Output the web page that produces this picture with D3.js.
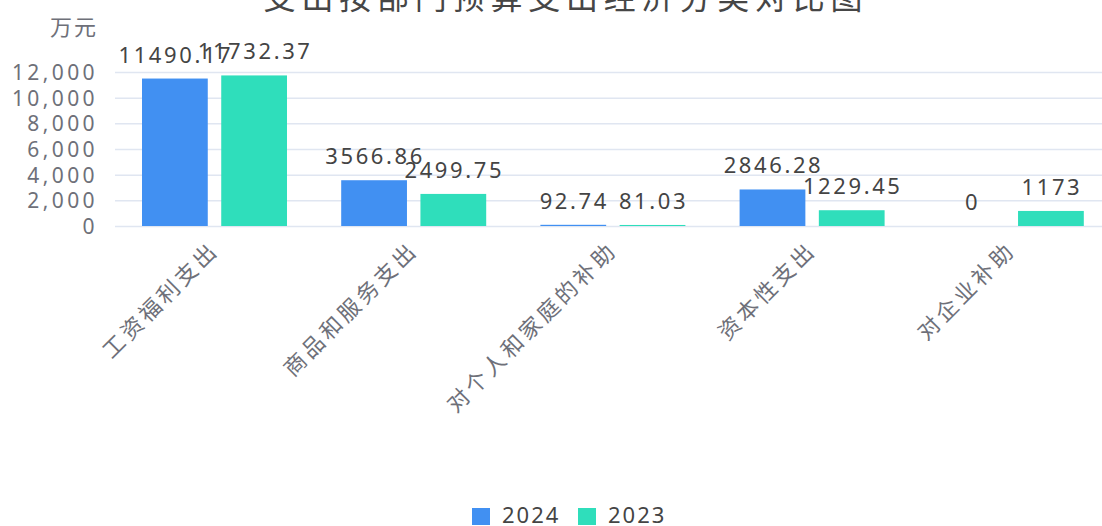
<!DOCTYPE html>
<html><head><meta charset="utf-8">
<script src="https://cdn.jsdelivr.net/npm/d3@7/dist/d3.min.js"></script>
<style>
html,body{margin:0;padding:0;background:#fff;overflow:hidden}
text{font-family:"Noto Sans","Noto Sans CJK SC",sans-serif}
</style></head>
<body><svg id="c" width="1102" height="526"></svg>
<script>
const title = "支出按部门预算支出经济分类对比图";
const unit = "万元";
const categories = ["工资福利支出","商品和服务支出","对个人和家庭的补助","资本性支出","对企业补助"];
const seriesNames = ["2024","2023"];
const values2024 = [11490.17, 3566.86, 92.74, 2846.28, 0];
const values2023 = [11732.37, 2499.75, 81.03, 1229.45, 1173];
const yTicks = [0,2000,4000,6000,8000,10000,12000];
const colors = ["#4190F2","#2FDEBB"];

const svg = d3.select("#c");
const m = {left:115, right:1111, top:72, bottom:226};
const x = d3.scaleBand().domain(categories).range([m.left, m.right]).paddingInner(0).paddingOuter(0);
const xs = d3.scaleBand().domain(seriesNames).range([27, 172]).paddingInner(0.17).paddingOuter(0);
const y = d3.scaleLinear().domain([0,12000]).range([m.bottom, m.top]);

// title
svg.append("text").attr("x", 566).attr("y", 9).attr("text-anchor","middle")
  .attr("font-size", 32).attr("letter-spacing", 5.8).attr("fill","#464646")
  .attr("font-family","Noto Sans CJK SC").text(title);
// unit
svg.append("text").attr("x", 74).attr("y", 35).attr("text-anchor","middle")
  .attr("font-size", 22).attr("letter-spacing", 2).attr("fill","#6E7079")
  .attr("font-family","Noto Sans CJK SC").text(unit);

// grid
svg.append("g").selectAll("line").data(yTicks).join("line")
  .attr("x1", m.left).attr("x2", 1102).attr("y1", d=>y(d)+0.5).attr("y2", d=>y(d)+0.5)
  .attr("stroke","#E0E6F1").attr("stroke-width",1.5);

// y axis labels via d3 axis
const yAxis = d3.axisLeft(y).tickValues(yTicks).tickFormat(d3.format(",")).tickSize(0).tickPadding(0);
const gy = svg.append("g").attr("transform", `translate(${m.left-17},0)`).call(yAxis);
gy.select(".domain").remove();
gy.selectAll("text").attr("font-size", 21).attr("letter-spacing", 3.4).attr("fill","#6E7079")
  .attr("font-family","Noto Sans").attr("dy","0.36em").attr("x", 0);

// x axis labels
const xAxis = d3.axisBottom(x).tickSize(0).tickPadding(0);
const gx = svg.append("g").attr("transform", `translate(0,${m.bottom})`).call(xAxis);
gx.select(".domain").remove();
gx.selectAll(".tick text")
  .attr("font-size", 22).attr("letter-spacing", 3.5).attr("fill","#6E7079")
  .attr("font-family","Noto Sans CJK SC")
  .attr("text-anchor","end").attr("dy","0.35em")
  .attr("transform","translate(0,20) rotate(-45)").attr("y",0).attr("x",0);

// bars
const series = [values2024, values2023];
series.forEach((vals, si) => {
  const g = svg.append("g");
  const data = categories.map((c,i)=>({c, v: vals[i]}));
  g.selectAll("rect").data(data).join("rect")
    .attr("x", d => x(d.c) + xs(seriesNames[si]))
    .attr("width", xs.bandwidth())
    .attr("y", d => y(d.v))
    .attr("height", d => y(0) - y(d.v))
    .attr("fill", colors[si]);
  g.selectAll("text").data(data).join("text")
    .attr("x", d => x(d.c) + xs(seriesNames[si]) + xs.bandwidth()/2 + 1)
    .attr("y", d => y(d.v) - 16)
    .attr("text-anchor","middle").attr("font-size", 22).attr("letter-spacing", 2.6)
    .attr("fill","#444").attr("font-family","Noto Sans")
    .text(d => String(d.v));
});

// legend
const leg = svg.append("g");
const legX = [472, 578];
seriesNames.forEach((s,i)=>{
  leg.append("rect").attr("x", legX[i]).attr("y", 508).attr("width", 18).attr("height", 17).attr("fill", colors[i]);
  leg.append("text").attr("x", legX[i]+30).attr("y", 523).attr("font-size", 22).attr("letter-spacing", 2)
    .attr("fill","#444").attr("font-family","Noto Sans").text(s);
});
</script></body></html>
